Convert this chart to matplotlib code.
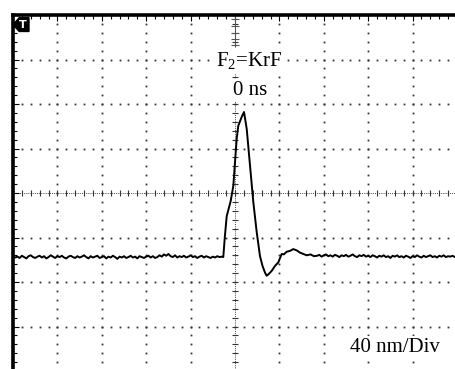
import matplotlib.pyplot as plt
import numpy as np
from matplotlib.patches import Polygon
from matplotlib.ticker import MultipleLocator

plt.rcParams['font.family'] = ['Liberation Serif', 'DejaVu Serif']
plt.rcParams['mathtext.fontset'] = 'custom'
plt.rcParams['mathtext.rm'] = 'Liberation Serif'

# trace, in divisions (x: 40 ns/div, y: arbitrary)
base_left_t = [-5.00, -4.95, -4.90, -4.85, -4.80, -4.75, -4.70, -4.65, -4.60, -4.55,
               -4.50, -4.45, -4.40, -4.35, -4.30, -4.25, -4.20, -4.15, -4.10, -4.05,
               -4.00, -3.95, -3.90, -3.85, -3.80, -3.75, -3.70, -3.65, -3.60, -3.55,
               -3.50, -3.45, -3.40, -3.35, -3.30, -3.25, -3.20, -3.15, -3.10, -3.05,
               -3.00, -2.95, -2.90, -2.85, -2.80, -2.75, -2.70, -2.65, -2.60, -2.55,
               -2.50, -2.45, -2.40, -2.35, -2.30, -2.25, -2.20, -2.15, -2.10, -2.05,
               -2.00, -1.95, -1.90, -1.85, -1.80, -1.75, -1.70, -1.65, -1.60, -1.55,
               -1.50, -1.45, -1.40, -1.35, -1.30, -1.25, -1.20, -1.15, -1.10, -1.05,
               -1.00, -0.95, -0.90, -0.85, -0.80, -0.75, -0.70, -0.65, -0.60, -0.55,
               -0.50, -0.45, -0.40, -0.35, -0.30]
base_left_v = [-1.42, -1.45, -1.43, -1.46, -1.41, -1.44, -1.47, -1.42, -1.40, -1.44,
               -1.46, -1.43, -1.41, -1.45, -1.42, -1.47, -1.44, -1.40, -1.43, -1.46,
               -1.42, -1.44, -1.41, -1.45, -1.47, -1.43, -1.41, -1.44, -1.46, -1.42,
               -1.45, -1.43, -1.40, -1.44, -1.47, -1.42, -1.45, -1.43, -1.41, -1.46,
               -1.44, -1.42, -1.47, -1.43, -1.45, -1.41, -1.44, -1.48, -1.43, -1.45,
               -1.42, -1.46, -1.44, -1.41, -1.45, -1.43, -1.47, -1.42, -1.44, -1.46,
               -1.43, -1.41, -1.45, -1.42, -1.46, -1.44, -1.40, -1.43, -1.38, -1.41,
               -1.37, -1.42, -1.44, -1.40, -1.45, -1.42, -1.44, -1.41, -1.45, -1.43,
               -1.40, -1.44, -1.42, -1.46, -1.43, -1.41, -1.45, -1.42, -1.44, -1.46,
               -1.43, -1.45, -1.42, -1.44, -1.43]

pulse_t = [-0.264, -0.230, -0.187, -0.097, -0.038, 0.038, 0.074, 0.151, 0.203,
           0.264, 0.338, 0.412, 0.489, 0.563, 0.62, 0.676, 0.714, 0.76, 0.827,
           0.9, 0.975, 1.052, 1.10, 1.164, 1.24, 1.313, 1.39, 1.464, 1.54,
           1.615, 1.70, 1.78]
pulse_v = [-1.44, -1.00, -0.52, -0.18, 0.16, 1.22, 1.51, 1.71, 1.82,
           1.44, 0.61, -0.20, -0.88, -1.42, -1.64, -1.79, -1.86, -1.82, -1.75,
           -1.64, -1.56, -1.37, -1.38, -1.32, -1.30, -1.26, -1.29, -1.34, -1.37,
           -1.40, -1.38, -1.42]

base_right_t = [1.85, 1.90, 1.95, 2.00, 2.05, 2.10, 2.15, 2.20, 2.25, 2.30,
                2.35, 2.40, 2.45, 2.50, 2.55, 2.60, 2.65, 2.70, 2.75, 2.80,
                2.85, 2.90, 2.95, 3.00, 3.05, 3.10, 3.15, 3.20, 3.25, 3.30,
                3.35, 3.40, 3.45, 3.50, 3.55, 3.60, 3.65, 3.70, 3.75, 3.80,
                3.85, 3.90, 3.95, 4.00, 4.05, 4.10, 4.15, 4.20, 4.25, 4.30,
                4.35, 4.40, 4.45, 4.50, 4.55, 4.60, 4.65, 4.70, 4.75, 4.80,
                4.85, 4.90, 4.95, 5.00]
base_right_v = [-1.41, -1.39, -1.43, -1.40, -1.38, -1.42, -1.40, -1.43, -1.39, -1.41,
                -1.44, -1.40, -1.42, -1.39, -1.43, -1.41, -1.38, -1.42, -1.44, -1.40,
                -1.42, -1.39, -1.43, -1.41, -1.44, -1.40, -1.42, -1.45, -1.41, -1.43,
                -1.40, -1.44, -1.42, -1.46, -1.41, -1.43, -1.40, -1.44, -1.42, -1.45,
                -1.41, -1.43, -1.46, -1.42, -1.44, -1.40, -1.43, -1.45, -1.41, -1.44,
                -1.42, -1.40, -1.44, -1.42, -1.45, -1.41, -1.43, -1.40, -1.44, -1.42,
                -1.43, -1.41, -1.44, -1.42]

t = np.array(base_left_t + pulse_t + base_right_t)
v = np.array(base_left_v + pulse_v + base_right_v)

fig = plt.figure(figsize=(4.56, 3.69), dpi=100)
ax = fig.add_axes([13 / 456, -2 / 369, 444 / 456, 356 / 369])
ax.set_xlim(-5, 5)
ax.set_ylim(-4, 4)

# dotted graticule
minor = np.round(np.arange(-5, 5.01, 0.2), 2)
minor_y = np.round(np.arange(-4, 4.01, 0.2), 2)
for gx in [-4, -3, -2, -1, 1, 2, 3, 4]:
    ax.plot(np.full(len(minor_y), gx), minor_y, ls='none', marker='s',
            ms=1.3, mew=0, color='#333333', zorder=1)
for gy in [-3, -2, -1, 1, 2, 3]:
    ax.plot(minor, np.full(len(minor), gy), ls='none', marker='s',
            ms=1.3, mew=0, color='#333333', zorder=1)

# centre crosshair with minor ticks
ax.axhline(0, ls=(0, (1, 1.2)), lw=0.7, color='#444444', zorder=1)
ax.axvline(0, ls=(0, (1, 1.2)), lw=0.7, color='#444444', zorder=1)
ax.plot(minor, np.zeros(len(minor)), ls='none', marker='|', ms=5,
        mew=0.8, color='#333333', zorder=1)
ax.plot(np.zeros(len(minor_y)), minor_y, ls='none', marker='_', ms=5,
        mew=0.8, color='#333333', zorder=1)

# trigger position marker at top centre
ax.plot([0, 0], [4, 3.3], color='#555555', lw=0.8, zorder=2)
ax.plot(np.zeros(5), [3.9, 3.75, 3.6, 3.45, 3.33], ls='none', marker='_', ms=6,
        mew=0.8, color='#555555', zorder=2)

# trace
ax.plot(t, v, color='black', lw=1.4, zorder=3)

# trigger level marker
ax.add_patch(Polygon([(-5.0, 3.78), (-4.86, 3.94), (-4.64, 3.94), (-4.64, 3.63),
                      (-4.86, 3.63)], closed=True, color='black', zorder=4))
ax.text(-4.77, 3.785, 'T', color='white', fontsize=8, fontweight='bold',
        ha='center', va='center', family='DejaVu Sans', zorder=5)

box = dict(facecolor='white', edgecolor='none', pad=1.5)
ax.text(0.32, 2.97, r'F$_\mathrm{2}$=KrF', fontsize=15, ha='center',
        va='center', bbox=box, zorder=6)
ax.text(0.33, 2.31, '0 ns', fontsize=15, ha='center', va='center',
        bbox=box, zorder=6)
ax.text(3.61, -3.48, '40 nm/Div', fontsize=15, ha='center', va='center',
        bbox=box, zorder=6)

for side in ['right', 'bottom']:
    ax.spines[side].set_visible(False)
for side in ['left', 'top']:
    ax.spines[side].set_linewidth(2.6)
ax.xaxis.set_major_locator(MultipleLocator(1))
ax.xaxis.set_minor_locator(MultipleLocator(0.2))
ax.yaxis.set_major_locator(MultipleLocator(1))
ax.yaxis.set_minor_locator(MultipleLocator(0.2))
ax.tick_params(which='both', direction='in', left=True, top=True, bottom=False,
               right=False, labelleft=False, labelbottom=False, width=0.8)
ax.tick_params(which='major', length=4)
ax.tick_params(which='minor', length=3)

fig.savefig('out.png', dpi=100)
